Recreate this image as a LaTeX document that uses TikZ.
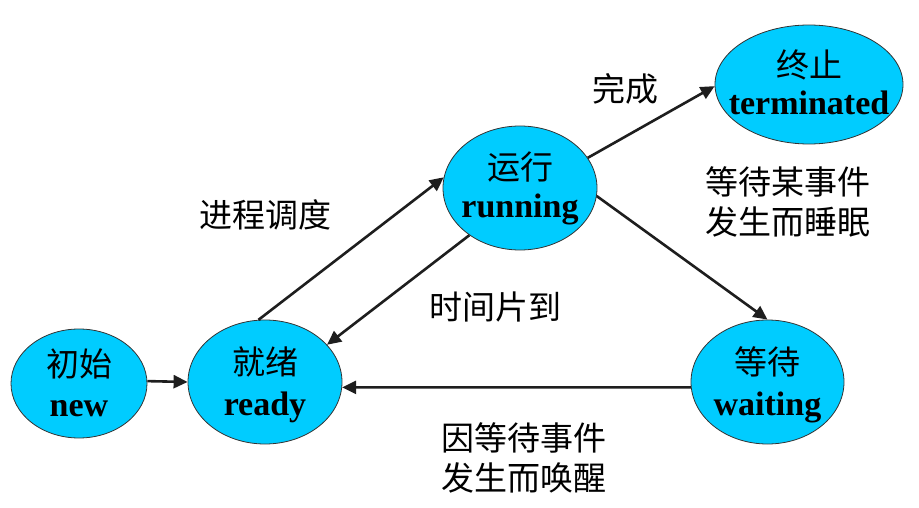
\documentclass[tikz,border=0pt]{standalone}
\usepackage{fontspec}
\setmainfont{Liberation Serif}
\newfontfamily\cjk{Noto Sans CJK SC}
\usetikzlibrary{shapes.geometric,arrows.meta}
\definecolor{statefill}{HTML}{00CCFF}
\definecolor{statedraw}{HTML}{333333}
\definecolor{arrowcol}{HTML}{1E1E1E}
\tikzset{
  statebox/.style={ellipse, draw=statedraw, line width=0.8pt, fill=statefill, inner sep=0pt},
  cntext/.style={font=\cjk\fontsize{33}{40}\selectfont, inner sep=0pt, anchor=center},
  entext/.style={font=\bfseries\fontsize{34}{40}\selectfont, inner sep=0pt, anchor=base},
  lbl/.style={font=\cjk\fontsize{33}{40}\selectfont, inner sep=0pt, align=center},
  arr/.style={draw=arrowcol, line width=2.6pt, -{Triangle[length=14pt,width=13pt]}, shorten >=0pt},
}
\begin{document}
\begin{tikzpicture}[x=1pt,y=-1pt]
\useasboundingbox (0,0) rectangle (919,508);
% states
\node[statebox, minimum width=136pt, minimum height=109pt] (new) at (79,383.5) {};
\node[statebox, minimum width=154pt, minimum height=124pt] (ready) at (265,382) {};
\node[statebox, minimum width=154pt, minimum height=124pt] (running) at (520,188) {};
\node[statebox, minimum width=188pt, minimum height=119pt] (term) at (809,84.5) {};
\node[statebox, minimum width=153pt, minimum height=124pt] (wait) at (767.5,382) {};
% state texts
\node[cntext] (new-cn) at (79,363.5) {初始};
\node[entext] (new-en) at (79,416) {new};
\node[cntext] (ready-cn) at (265,362) {就绪};
\node[entext] (ready-en) at (265,415) {ready};
\node[cntext] (running-cn) at (520,167) {运行};
\node[entext] (running-en) at (520,218) {running};
\node[cntext] (term-cn) at (809,64.5) {终止};
\node[entext] (term-en) at (809,115) {terminated};
\node[cntext] (wait-cn) at (767.5,362) {等待};
\node[entext] (wait-en) at (767.5,415) {waiting};
% arrows
\draw[arr] (new.2) -- (ready.180);
\draw[arr] (ready.96) -- (running.172);
\draw[arr] (running.223) -- (ready.31);
\draw[arr] (running.24) -- (term.181);
\draw[arr] (running.354) -- (wait.90);
\draw[arr] (wait.184) -- (ready.356);
% labels
\node[lbl] (l-done) at (625,89) {完成};
\node[lbl] (l-sched) at (265,215) {进程调度};
\node[lbl] (l-slice) at (495,307) {时间片到};
\node[lbl] (l-sleep) at (788,202) {等待某事件\\发生而睡眠};
\node[lbl] (l-wake) at (524,458) {因等待事件\\发生而唤醒};
\end{tikzpicture}
\end{document}
